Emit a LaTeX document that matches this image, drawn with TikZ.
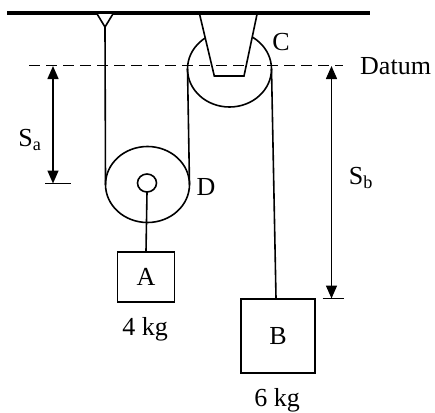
\documentclass[tikz,border=0pt]{standalone}
\usepackage{fontspec}
\setmainfont{Liberation Serif}
\usetikzlibrary{arrows.meta,calc}
\begin{document}
\begin{tikzpicture}[x=1pt,y=-1pt,
  rope/.style={line width=1.6pt},
  lbl/.style={font=\fontsize{26}{29}\selectfont, inner sep=0pt},
  mass/.style={draw, line width=1.7pt, inner sep=0pt, font=\fontsize{26}{29}\selectfont},
  dimarrow/.style={line width=1.5pt, {Triangle[length=13pt,width=11pt]}-{Triangle[length=13pt,width=11pt]}},
  tick/.style={line width=1.5pt},
  datum/.style={line width=1.4pt, dash pattern=on 11pt off 6pt}
 ]
\useasboundingbox (0,0) rectangle (435,412);
% pulley centres and tangent points
\coordinate (Cc) at (229.5,69);
\coordinate (Dc) at (147.5,184.5);
\coordinate (Cl) at (187.5,69);
\coordinate (Cr) at (271.5,69);
\coordinate (Dl) at (105.5,184.5);
\coordinate (Dr) at (189.5,184.5);
\coordinate (hook) at (105,27);
\coordinate (hub) at (147,183);
% pulley C
\draw[rope] (Cc) ellipse [x radius=42, y radius=38];
% bracket
\draw[rope, fill=white] (199.3,13) -- (214.3,76) -- (244,76) -- (257.3,13) -- cycle;
% ceiling
\draw[line width=3.5pt] (7,13) -- (370,13);
% left anchor
\draw[rope, fill=white] (96.5,13) -- (113.5,13) -- (hook) -- cycle;
% pulley D
\draw[rope] (Dc) ellipse [x radius=42, y radius=38];
\draw[rope] (hub) ellipse [x radius=9.5, y radius=9];
% masses
\node[mass, minimum width=57pt, minimum height=50pt] (A) at (146,277) {A};
\node[mass, minimum width=74pt, minimum height=74pt] (B) at (278,336) {B};
% ropes
\draw[rope] (hook) -- (Dl);
\draw[rope] (Cl) -- (Dr);
\draw[rope] (Cr) -- ($(B.north)+(-2,0)$);
\draw[rope] ($(hub)+(0,9)$) -- (A.north);
% datum
\draw[datum] (29,65.5) -- (343,65.5);
% S_a
\coordinate (sat) at (53,66);
\coordinate (sab) at (53,183.5);
\draw[dimarrow] (sat) -- (sab);
\draw[tick] ($(sab)+(-8,0)$) -- ($(sab)+(18,0)$);
% S_b
\coordinate (sbt) at (331.5,66);
\coordinate (sbb) at (331.5,298.5);
\draw[dimarrow] (sbt) -- (sbb);
\draw[tick] ($(sbb)+(-9,0)$) -- ($(sbb)+(12,0)$);
% labels
\node[lbl] (lC) at (281,42) {C};
\node[lbl] (lD) at (206,187) {D};
\node[lbl, anchor=west] (ldat) at (360,66) {Datum};
\node[lbl] (lSa) at (30,140) {S\textsubscript{a}};
\node[lbl] (lSb) at (361,178) {S\textsubscript{b}};
\node[lbl] (mA) at (145,329) {4 kg};
\node[lbl] (mB) at (277,400) {6 kg};
\end{tikzpicture}
\end{document}
